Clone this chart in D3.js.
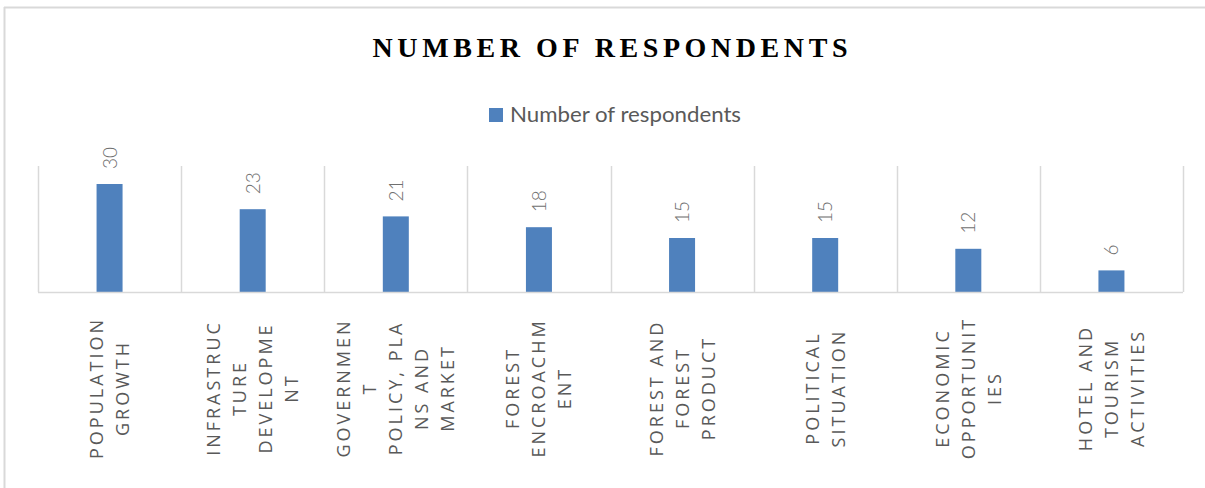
<!DOCTYPE html>
<html>
<head>
<meta charset="utf-8">
<script src="https://cdn.jsdelivr.net/npm/d3@7"></script>
<style>
  html, body { margin: 0; padding: 0; background: #ffffff; }
  svg { display: block; }
</style>
</head>
<body>
<svg id="chart" width="1205" height="488"></svg>
<script>
// ---- data ----
const title = "NUMBER OF RESPONDENTS";
const seriesName = "Number of respondents";
const categories = [
  "POPULATION GROWTH",
  "INFRASTRUCTURE DEVELOPMENT",
  "GOVERNMENT POLICY, PLANS AND MARKET",
  "FOREST ENCROACHMENT",
  "FOREST AND FOREST PRODUCT",
  "POLITICAL SITUATION",
  "ECONOMIC OPPORTUNITIES",
  "HOTEL AND TOURISM ACTIVITIES"
];
const labelLines = [
  ["POPULATION", "GROWTH"],
  ["INFRASTRUC", "TURE", "DEVELOPME", "NT"],
  ["GOVERNMEN", "T", "POLICY, PLA", "NS AND", "MARKET"],
  ["FOREST", "ENCROACHM", "ENT"],
  ["FOREST AND", "FOREST", "PRODUCT"],
  ["POLITICAL", "SITUATION"],
  ["ECONOMIC", "OPPORTUNIT", "IES"],
  ["HOTEL AND", "TOURISM", "ACTIVITIES"]
];
const values = [30, 23, 21, 18, 15, 15, 12, 6];
const yDomain = [0, 35];

// ---- layout ----
const svg = d3.select("#chart");
const plot = { left: 38, right: 1183, top: 166, bottom: 292 };
const gridColor = "#d9d9d9";
const barColor = "#4f81bd";
const textGray = "#595959";

const x = d3.scaleBand().domain(categories).range([plot.left, plot.right]).padding(0);
const y = d3.scaleLinear().domain(yDomain).range([plot.bottom, plot.top]);
const barW = 26;

// outer frame (top and left edges visible)
svg.append("line").attr("x1", 4).attr("x2", 1205).attr("y1", 7.5).attr("y2", 7.5)
  .attr("stroke", gridColor).attr("stroke-width", 2);
svg.append("line").attr("x1", 4.5).attr("x2", 4.5).attr("y1", 7).attr("y2", 488)
  .attr("stroke", gridColor).attr("stroke-width", 2);

// title
svg.append("text")
  .attr("x", 610).attr("y", 57)
  .attr("text-anchor", "middle")
  .attr("font-family", "'Liberation Serif', 'Times New Roman', serif")
  .attr("font-weight", "bold")
  .attr("font-size", 28)
  .attr("textLength", 475)
  .attr("lengthAdjust", "spacing")
  .attr("fill", "#000")
  .text(title);

// legend
svg.append("rect").attr("x", 489).attr("y", 108).attr("width", 14).attr("height", 14).attr("fill", barColor);
svg.append("text")
  .attr("x", 510).attr("y", 122)
  .attr("font-family", "Lato, 'Liberation Sans', sans-serif")
  .attr("font-size", 21)
  .attr("textLength", 231)
  .attr("lengthAdjust", "spacingAndGlyphs")
  .attr("fill", textGray)
  .text(seriesName);

// category separators (vertical gridlines)
const edges = categories.map(c => x(c)).concat([x(categories[categories.length - 1]) + x.bandwidth()]);
svg.append("g").selectAll("line").data(edges).join("line")
  .attr("x1", d => Math.round(d) + 0.5).attr("x2", d => Math.round(d) + 0.5)
  .attr("y1", plot.top).attr("y2", plot.bottom)
  .attr("stroke", gridColor).attr("stroke-width", 1.5);

// bars
svg.append("g").selectAll("rect").data(values).join("rect")
  .attr("x", (d, i) => x(categories[i]) + x.bandwidth() / 2 - barW / 2)
  .attr("y", d => y(d))
  .attr("width", barW)
  .attr("height", d => y(0) - y(d))
  .attr("fill", barColor);

// baseline
svg.append("line").attr("x1", plot.left).attr("x2", plot.right)
  .attr("y1", plot.bottom + 0.5).attr("y2", plot.bottom + 0.5)
  .attr("stroke", gridColor).attr("stroke-width", 1.5);

// value labels (rotated)
svg.append("g").selectAll("text").data(values).join("text")
  .attr("transform", (d, i) => `translate(${x(categories[i]) + x.bandwidth() / 2 + 7},${y(d) - 15}) rotate(-90)`)
  .attr("text-anchor", "start")
  .attr("font-family", "Lato, 'Liberation Sans', sans-serif")
  .attr("font-weight", 300)
  .attr("font-size", 19)
  .attr("fill", "#707070")
  .text(d => d);

// category labels (rotated, wrapped)
const lineGap = 26;
const labelCenterY = 388;
const lg = svg.append("g").selectAll("g").data(labelLines).join("g")
  .attr("transform", (d, i) => `translate(${x(categories[i]) + x.bandwidth() / 2},${labelCenterY}) rotate(-90)`);
lg.selectAll("text").data(d => d.map((t, j) => ({ t, j, n: d.length }))).join("text")
  .attr("x", 0)
  .attr("y", d => (d.j - (d.n - 1) / 2) * lineGap + 6.5)
  .attr("text-anchor", "middle")
  .attr("font-family", "'Open Sans', 'Noto Sans', sans-serif")
  .attr("font-size", 18)
  .attr("letter-spacing", 3)
  .attr("fill", textGray)
  .text(d => d.t);
</script>
</body>
</html>
